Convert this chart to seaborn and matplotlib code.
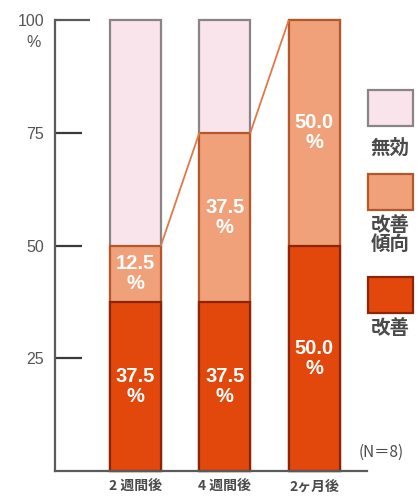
import matplotlib
matplotlib.use("Agg")
import matplotlib.pyplot as plt
from matplotlib.patches import Rectangle
import seaborn as sns
import pandas as pd

# --- data -------------------------------------------------------------
categories = ["2 週間後", "4 週間後", "2ヶ月後"]
improved = [37.5, 37.5, 50.0]        # 改善
trend = [12.5, 37.5, 50.0]           # 改善傾向
no_effect = [50.0, 25.0, 0.0]        # 無効
legend_labels = ["無効", "改善\n傾向", "改善"]
y_ticks = [25, 50, 75]
y_top = 100
n_note = "(N＝8)"

# --- style ------------------------------------------------------------
sns.set_theme(style="white")
plt.rcParams["font.family"] = ["Noto Sans CJK JP", "DejaVu Sans"]

c_none, e_none = "#f9e4ec", "#8a8486"
c_trend, e_trend = "#f0a179", "#b4582c"
c_imp, e_imp = "#e2470c", "#8e2406"
link_color = "#e0794a"
ink = "#4a4a4a"
latin = ["Liberation Sans", "DejaVu Sans"]

W, H = 419, 497
fig = plt.figure(figsize=(W / 100, H / 100), dpi=100)
ax = fig.add_axes([55 / W, 26 / H, 312 / W, 451 / H])

df = pd.DataFrame({
    "cat": categories,
    "imp": improved,
    "imp_trend": [a + b for a, b in zip(improved, trend)],
    "total": [a + b + c for a, b, c in zip(improved, trend, no_effect)],
})

bw = 0.57
common = dict(x="cat", order=categories, width=bw, saturation=1,
              ax=ax, clip_on=False, linewidth=1.6)
sns.barplot(data=df, y="total", color=c_none, edgecolor=e_none, **common)
sns.barplot(data=df, y="imp_trend", color=c_trend, edgecolor=e_trend, **common)
sns.barplot(data=df, y="imp", color=c_imp, edgecolor=e_imp, **common)

# connectors between cumulative tops of neighbouring bars
mid_bars = ax.containers[1]
for i in range(len(categories) - 1):
    p0, p1 = mid_bars[i], mid_bars[i + 1]
    ax.plot([p0.get_x() + p0.get_width(), p1.get_x()],
            [p0.get_height(), p1.get_height()],
            color=link_color, lw=1.3, zorder=1)

# value labels inside segments
lab_kw = dict(ha="center", va="center", color="white", fontsize=14.5,
              fontweight="bold", family=latin, linespacing=1.1, zorder=5)
for i in range(len(categories)):
    if improved[i] > 0:
        ax.text(i, improved[i] / 2, f"{improved[i]:.1f}\n%", **lab_kw)
    if trend[i] > 0:
        ax.text(i, improved[i] + trend[i] / 2, f"{trend[i]:.1f}\n%", **lab_kw)

# axes
ax.set_xlim(-0.90, 2.59)
ax.set_ylim(0, y_top)
ax.set_xlabel("")
ax.set_ylabel("")
for s in ["top", "right"]:
    ax.spines[s].set_visible(False)
for s in ["left", "bottom"]:
    ax.spines[s].set_color("#5a5a5a")
    ax.spines[s].set_linewidth(1.6)

ax.set_yticks(y_ticks)
ax.set_yticklabels([str(t) for t in y_ticks])
ax.set_yticks([y_top], minor=True)
ax.set_yticklabels([str(y_top)], minor=True)
ax.tick_params(axis="y", which="major", left=True, direction="in",
               length=19.5, width=1.6, color="#3a3a3a", pad=8,
               labelsize=11.5, labelcolor="#555555")
ax.tick_params(axis="y", which="minor", left=True, direction="in",
               length=25, width=1.6, color="#5a5a5a", pad=8,
               labelsize=11.5, labelcolor="#555555")
for lab in ax.get_yticklabels() + ax.get_yticklabels(minor=True):
    lab.set_family(latin)
ax.text(-0.07, 0.95, "%", transform=ax.transAxes, ha="center",
        va="center", fontsize=11.5, color="#555555", family=latin)

ax.tick_params(axis="x", bottom=False, length=0, pad=6, labelsize=10,
               labelcolor=ink)
for lab in ax.get_xticklabels():
    lab.set_fontweight("bold")

# legend: swatches with captions beneath
def px_rect(x0, y0, x1, y1, fc, ec):
    fig.add_artist(Rectangle((x0 / W, 1 - y1 / H), (x1 - x0) / W,
                             (y1 - y0) / H, transform=fig.transFigure,
                             facecolor=fc, edgecolor=ec, lw=1.6))

def px_text(x, y, s, **kw):
    fig.text(x / W, 1 - y / H, s, **kw)

leg_kw = dict(ha="center", va="center", fontsize=14, color=ink,
              fontweight="bold", linespacing=0.95)
px_rect(368, 90, 413, 126, c_none, e_none)
px_text(390, 148, legend_labels[0], **leg_kw)
px_rect(368, 174, 413, 210, c_trend, e_trend)
px_text(390, 235, legend_labels[1], **leg_kw)
px_rect(368, 277, 413, 313, c_imp, e_imp)
px_text(390, 329, legend_labels[2], **leg_kw)

px_text(359, 452, n_note, ha="left", va="center", fontsize=11, color=ink)

fig.savefig("out.png", dpi=100)
